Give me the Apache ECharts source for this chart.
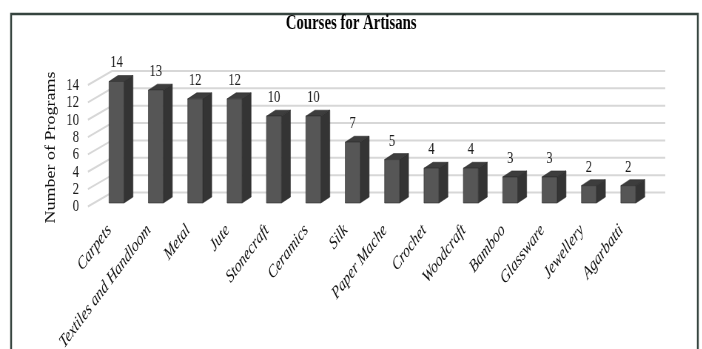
<!DOCTYPE html>
<html>
<head>
<meta charset="utf-8">
<title>Courses for Artisans</title>
<script src="https://cdn.jsdelivr.net/npm/echarts@6/dist/echarts.min.js"></script>
<style>
  html, body { margin: 0; padding: 0; background: #ffffff; overflow: hidden; }
  /* the chart is laid out wide and then condensed horizontally */
  #chart { width: 949px; height: 349px; transform: scaleX(0.74); transform-origin: 0 0; }
</style>
</head>
<body>
<div id="chart"></div>
<script>
// Number of programs offered per craft
const categories = [
  'Carpets', 'Textiles and Handloom', 'Metal', 'Jute', 'Stonecraft', 'Ceramics', 'Silk',
  'Paper Mache', 'Crochet', 'Woodcraft', 'Bamboo', 'Glassware', 'Jewellery', 'Agarbatti'
];
const programs = [14, 13, 12, 12, 10, 10, 7, 5, 4, 4, 3, 3, 2, 2];
const yTicks = [0, 2, 4, 6, 8, 10, 12, 14];

const SERIF = "'Liberation Serif', 'Times New Roman', serif";

// pseudo-3D depth of the columns and of the back wall
const BAR_DEPTH = [12.2, -6];
const WALL_BACK = [20.5, -10.5];
const WALL_FRONT = [-12, 3.5];
// tick numbers sit at the front end of each wall line
const TICK_ANCHOR = [-24, 4];
// category names hang from the front edge of the floor
const NAME_ANCHOR = [-9.5, 24.5];

const chart = echarts.init(document.getElementById('chart'), null, { renderer: 'canvas' });

function renderWallLine(params, api) {
  const cs = params.coordSys;
  const v = api.value(1);
  const y = api.coord([0, v])[1];
  const yb = y + WALL_BACK[1];
  return {
    type: 'group',
    children: [
      {
        type: 'polyline',
        shape: {
          points: [
            [cs.x + WALL_FRONT[0], y + WALL_FRONT[1]],
            [cs.x + WALL_BACK[0], yb],
            [cs.x + cs.width + 23.4, yb]
          ]
        },
        style: { stroke: '#d7d7d7', lineWidth: 2, fill: null }
      },
      {
        type: 'text',
        x: cs.x + TICK_ANCHOR[0],
        y: y + TICK_ANCHOR[1],
        style: {
          text: String(v),
          fill: '#1a1a1a',
          font: '17px ' + SERIF,
          align: 'right',
          verticalAlign: 'middle'
        }
      }
    ],
    silent: true
  };
}

function renderColumn(params, api) {
  const idx = api.value(0);
  const val = api.value(1);
  const base = api.coord([idx, 0]);
  const top = api.coord([idx, val]);
  const band = api.size([1, 0])[0];
  const w = band * 0.38;
  const [dx, dy] = BAR_DEPTH;
  const x0 = top[0] - w / 2;
  const x1 = top[0] + w / 2;
  const edge = { stroke: '#2b2b2b', lineWidth: 0.6 };
  return {
    type: 'group',
    children: [
      {
        type: 'polygon',
        shape: { points: [[x1, top[1]], [x1 + dx, top[1] + dy], [x1 + dx, base[1] + dy], [x1, base[1]]] },
        style: Object.assign({ fill: '#343434' }, edge)
      },
      {
        type: 'polygon',
        shape: { points: [[x0, top[1]], [x1, top[1]], [x1 + dx, top[1] + dy], [x0 + dx, top[1] + dy]] },
        style: Object.assign({ fill: '#3d3d3d' }, edge)
      },
      {
        type: 'rect',
        shape: { x: x0, y: top[1], width: w, height: base[1] - top[1] },
        style: Object.assign({ fill: '#565656' }, edge)
      },
      {
        type: 'text',
        x: top[0],
        y: top[1] - 18.5,
        style: {
          text: String(val),
          fill: '#1a1a1a',
          font: '17px ' + SERIF,
          align: 'center',
          verticalAlign: 'middle'
        }
      }
    ]
  };
}

function renderCategoryName(params, api) {
  const idx = api.value(0);
  const p = api.coord([idx, 0]);
  return {
    type: 'text',
    x: p[0] + NAME_ANCHOR[0],
    y: p[1] + NAME_ANCHOR[1],
    rotation: Math.PI / 4,
    style: {
      text: categories[idx],
      fill: '#111111',
      font: 'italic 18px ' + SERIF,
      align: 'right',
      verticalAlign: 'middle'
    },
    silent: true
  };
}

chart.setOption({
  backgroundColor: '#ffffff',
  animation: false,
  title: {
    text: 'Courses for Artisans',
    left: 'center',
    top: 9,
    textStyle: { fontFamily: SERIF, fontWeight: 'bold', fontSize: 20, color: '#000000' }
  },
  graphic: [
    {
      type: 'rect',
      shape: { x: 15, y: 14, width: 928, height: 400 },
      style: { fill: null, stroke: '#36443f', lineWidth: 2.5 },
      silent: true
    },
    {
      type: 'text',
      x: 69,
      y: 147.5,
      rotation: Math.PI / 2,
      style: {
        text: 'Number of Programs',
        font: '18px ' + SERIF,
        fill: '#111111',
        align: 'center',
        verticalAlign: 'middle'
      }
    }
  ],
  grid: {
    left: 130.8, right: 73.4, top: 81.5, bottom: 146,
    containLabel: false,
    outerBoundsMode: 'none'
  },
  xAxis: {
    type: 'category',
    data: categories,
    axisLine: { show: false },
    axisTick: { show: false },
    axisLabel: { show: false }
  },
  yAxis: {
    type: 'value',
    min: 0,
    max: 14,
    interval: 2,
    axisLine: { show: false },
    axisTick: { show: false },
    splitLine: { show: false },
    axisLabel: { show: false }
  },
  series: [
    {
      type: 'custom',
      name: 'wall',
      renderItem: renderWallLine,
      data: yTicks.map(v => [0, v]),
      encode: { x: 0, y: 1 },
      clip: false,
      z: 1,
      silent: true
    },
    {
      type: 'custom',
      name: 'Number of Programs',
      renderItem: renderColumn,
      data: programs.map((v, i) => [i, v]),
      encode: { x: 0, y: 1 },
      z: 2
    },
    {
      type: 'custom',
      name: 'categories',
      renderItem: renderCategoryName,
      data: categories.map((c, i) => [i, 0]),
      encode: { x: 0, y: 1 },
      clip: false,
      z: 3,
      silent: true
    }
  ]
});
</script>
</body>
</html>
